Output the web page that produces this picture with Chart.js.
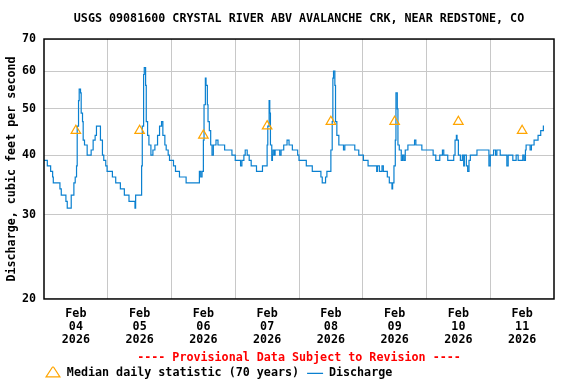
<!DOCTYPE html>
<html>
<head>
<meta charset="utf-8">
<title>USGS 09081600 Crystal River</title>
<script src="https://cdn.jsdelivr.net/npm/chart.js@4.4.1/dist/chart.umd.min.js"></script>
<style>
    html, body { margin: 0; padding: 0; background: #fff; }
    #grafico { display: block; }
</style>
</head>
<body>
<canvas id="grafico" width="576" height="384"></canvas>
<script>
// Caudal: horas desde 2026-02-04 00:00 y valor en pies cubicos por segundo
const horas = [
    0, 1.25, 2.5, 3.25, 3.5, 6, 6.5, 8.25, 8.75, 10.25, 11.25, 11.75, 12.25, 12.5, 13, 13.25, 13.75, 14, 14.5, 14.75,
    15.25, 16.25, 17.75, 18.5, 19.25, 19.75, 21.25, 22, 22.5, 23.25, 23.75, 25.75, 27, 28.75, 30.25, 32, 34.25, 34.5,
    36.75, 37, 37.5, 37.75, 38.25, 38.5, 39, 39.5, 40.25, 41, 41.75, 42.75, 43.5, 44.25, 44.75, 45.5, 46, 46.75, 47.25, 48.75,
    49.5, 51, 53.5, 58.5, 59, 59.5, 60, 60.25, 60.75, 61, 61.5, 61.75, 62.25, 62.75, 63.25, 63.75, 64.75, 65.5, 68, 70.75,
    72, 74, 74.5, 75.25, 75.75, 76.5, 77.25, 78, 80, 82.25, 84, 84.25, 84.75, 85, 85.25, 85.75, 86, 86.25, 86.75, 87,
    88.75, 89.25, 90.25, 91.5, 92.25, 93.5, 95.5, 96,
    98.75, 101, 104.25, 104.75, 106, 106.5, 108, 108.5, 108.75, 109, 109.5, 109.75, 110.25, 111, 112.75, 113.25, 117, 118.5,
    120.25, 122, 125.25, 125.5, 126.25, 127.25, 127.75, 129.25, 130, 131, 131.25, 131.75, 132.25, 132.5, 133, 133.25, 133.75,
    134.5, 135, 135.5, 136, 137, 139.5, 140, 142.25,
    146.5, 147.5, 149, 150, 150.5, 152, 154.25, 154.75, 155.25, 155.5, 156, 156.75, 157.5, 158, 158.25, 159, 159.5, 160, 160.5,
    163, 167.5, 168, 169.25, 170, 170.5, 171.75, 174.25, 174.75, 176.5, 177.75, 178.5, 180.25, 180.75, 181.25, 181.5, 183,
    183.5, 184.5, 186, 187, 188, 188.25
];
const caudal = [
    39, 38, 37, 36, 35, 34, 33, 32, 31, 33, 35, 36, 38, 46, 52, 55, 54, 49, 47, 43,
    42, 40, 41, 43, 44, 46, 43, 40, 39, 38, 37, 36, 35, 34, 33, 32, 31, 33,
    38, 46, 59, 61, 56, 47, 44, 42, 40, 41, 42, 44, 46, 47, 44, 42, 41, 40, 39, 38,
    37, 36, 35, 37, 36, 37, 43, 51, 58, 56, 51, 47, 45, 42, 40, 42, 43, 42, 41, 40,
    39, 38, 39, 40, 41, 40, 39, 38, 37, 38, 42, 46, 52, 49, 42, 39, 40, 41, 40, 41,
    40, 41, 42, 43, 42, 41, 40, 39,
    38, 37, 36, 35, 36, 37, 41, 47, 58, 60, 56, 47, 44, 42, 41, 42, 41, 40,
    39, 38, 37, 38, 37, 38, 37, 36, 35, 34, 35, 38, 43, 54, 50, 42, 41,
    39, 40, 39, 41, 42, 43, 42, 41,
    40, 39, 40, 41, 40, 39, 40, 43, 44, 43, 40, 39, 40, 38, 40, 38, 37, 39, 40,
    41, 38, 40, 41, 40, 41, 40, 38, 40, 39, 40, 39, 40, 39, 41, 42, 41,
    42, 43, 44, 45, 46, 46
];

// Mediana diaria (70 anos), un valor por dia
const dias = ['04', '05', '06', '07', '08', '09', '10', '11'];
const mediana = [45, 45, 44, 46, 47, 47, 47, 45];

const mes = 'Feb';
const anio = '2026';
const ticksY = [20, 30, 40, 50, 60, 70];

const fuente = { family: "'DejaVu Sans Mono', monospace", size: 11.7, weight: 'bold' };
const gris = '#c8c8c8';
const transparente = 'rgba(0,0,0,0)';

// Marco negro alrededor del area del grafico
const marco = {
    id: 'marco',
    afterDatasetsDraw(chart) {
        const { ctx, chartArea: a } = chart;
        ctx.save();
        ctx.strokeStyle = '#000';
        ctx.lineWidth = 1.5;
        ctx.strokeRect(a.left, a.top, a.right - a.left, a.bottom - a.top);
        ctx.restore();
    }
};

document.addEventListener('DOMContentLoaded', () => {
    const ctx = document.getElementById('grafico').getContext('2d');
    const horasTotales = dias.length * 24;

    new Chart(ctx, {
        type: 'line',
        data: {
            datasets: [{
                label: 'Median daily statistic (70 years) ', // espacio final: separa la segunda entrada
                data: mediana.map((v, i) => ({ x: i * 24 + 12, y: v })), // al mediodia de cada dia
                showLine: false,
                pointStyle: 'triangle',
                pointRadius: 5.5,
                pointBorderWidth: 1.2,
                pointBorderColor: '#ffa500',
                pointBackgroundColor: transparente,
                borderColor: '#ffa500',
                backgroundColor: transparente
            }, {
                label: 'Discharge',
                data: horas.map((h, i) => ({ x: h, y: caudal[i] })),
                stepped: true,
                borderColor: '#0a80d0',
                backgroundColor: '#0a80d0',
                borderWidth: 1.2,
                pointRadius: 0,
                pointStyle: 'line'
            }]
        },
        options: {
            responsive: false,
            devicePixelRatio: 1,
            animation: false,
            events: [],
            layout: { padding: { left: 0, right: 22, top: 0, bottom: 0 } },
            plugins: {
                tooltip: { enabled: false },
                title: {
                    display: true,
                    text: 'USGS 09081600 CRYSTAL RIVER ABV AVALANCHE CRK, NEAR REDSTONE, CO',
                    color: '#000',
                    font: fuente,
                    fullSize: false,
                    padding: { top: 12, bottom: 13 }
                },
                subtitle: {
                    display: true,
                    position: 'bottom',
                    text: '---- Provisional Data Subject to Revision ----',
                    color: '#ff0000',
                    font: fuente,
                    fullSize: false,
                    padding: { top: 0, bottom: 1.5 }
                },
                legend: {
                    position: 'bottom',
                    align: 'start',
                    fullSize: false,
                    weight: 2500,
                    maxHeight: 17.5,
                    labels: {
                        usePointStyle: true,
                        pointStyleWidth: 16,
                        boxHeight: 10,
                        padding: 1,
                        color: '#000',
                        font: fuente
                    }
                }
            },
            scales: {
                x: {
                    type: 'linear',
                    min: 0,
                    max: horasTotales,
                    afterBuildTicks: (scale) => {
                        scale.ticks = [];
                        for (let h = 0; h <= horasTotales; h += 12) scale.ticks.push({ value: h });
                    },
                    afterFit: (scale) => { scale.height = 52; },
                    border: { display: false },
                    grid: {
                        drawTicks: false,
                        color: (c) => (c.tick && c.tick.value % 24 === 0 && c.tick.value > 0 && c.tick.value < horasTotales) ? gris : transparente
                    },
                    ticks: {
                        autoSkip: false,
                        maxRotation: 0,
                        padding: 8.5,
                        color: '#000',
                        font: { ...fuente, lineHeight: 1.111 },
                        callback: (v) => v % 24 === 12 ? [mes, dias[(v - 12) / 24], anio] : ''
                    }
                },
                y: {
                    type: 'logarithmic',
                    min: 20,
                    max: 70,
                    afterBuildTicks: (scale) => { scale.ticks = ticksY.map(v => ({ value: v })); },
                    afterFit: (scale) => { scale.width = 44; },
                    border: { display: false },
                    grid: {
                        drawTicks: false,
                        color: (c) => (c.tick && c.tick.value > ticksY[0] && c.tick.value < ticksY[ticksY.length - 1]) ? gris : transparente
                    },
                    ticks: {
                        padding: 8,
                        color: '#000',
                        font: fuente,
                        callback: (v) => String(v)
                    },
                    title: {
                        display: true,
                        text: 'Discharge, cubic feet per second',
                        color: '#000',
                        font: fuente,
                        padding: { top: 5, bottom: 0 }
                    }
                }
            }
        },
        plugins: [marco]
    });
});
</script>
</body>
</html>
